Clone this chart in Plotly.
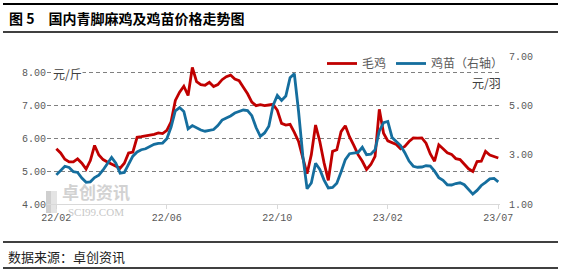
import plotly.graph_objects as go

# ---------------- data ----------------
tick_labels = ["22/02", "22/06", "22/10", "23/02", "23/07"]
tick_index = [0, 26, 52, 78, 104]

# 毛鸡 (元/斤, left axis)
broiler = [
    5.68, 5.55, 5.36, 5.28, 5.28, 5.37, 5.24, 5.06, 5.32, 5.78,
    5.49, 5.35, 5.28, 5.21, 5.15, 5.09, 5.24, 5.55, 5.58, 6.03,
    6.05, 6.07, 6.10, 6.12, 6.16, 6.14, 6.24, 6.50, 7.15, 7.40,
    7.58, 7.30, 8.15, 7.72, 7.63, 7.61, 7.70, 7.57, 7.63, 7.78,
    7.87, 7.92, 7.80, 7.75, 7.55, 7.35, 7.10, 6.99, 7.02, 6.99,
    7.01, 7.03, 6.85, 6.45, 6.40, 6.42, 6.18, 5.90, 5.40, 4.92,
    5.50, 6.40, 5.90, 5.25, 4.72, 5.60, 5.65, 6.20, 6.38, 6.04,
    5.78, 5.50, 5.30, 5.05, 5.20, 5.45, 6.88, 6.15, 5.92, 5.87,
    5.81, 5.68, 5.75, 5.90, 6.01, 6.00, 6.01, 5.85, 5.52, 5.30,
    5.80, 5.68, 5.56, 5.51, 5.38, 5.35, 5.20, 5.07, 4.99, 5.29,
    5.30, 5.60, 5.49, 5.45, 5.40,
]

# 鸡苗 (元/羽, right axis)
chick = [
    2.18, 2.35, 2.53, 2.48, 2.31, 2.28, 2.05, 1.88, 1.90, 2.07,
    2.17, 2.38, 2.65, 2.89, 2.65, 2.25, 2.28, 2.60, 2.94, 3.11,
    3.20, 3.24, 3.33, 3.42, 3.46, 3.47, 3.65, 4.12, 4.78, 4.91,
    4.75, 4.05, 4.18, 4.08, 4.00, 3.95, 3.99, 4.02, 4.18, 4.40,
    4.49, 4.57, 4.69, 4.75, 4.81, 4.79, 4.58, 4.10, 3.74, 3.88,
    4.15, 5.00, 5.40, 5.20, 5.38, 6.12, 6.28, 4.75, 2.95, 1.62,
    1.85, 2.65, 2.40, 1.97, 1.65, 1.67, 1.84, 2.30, 2.80, 3.04,
    3.05, 3.09, 3.30, 3.00, 3.02, 3.20, 3.95, 4.30, 4.35, 3.70,
    3.53, 3.37, 3.08, 2.74, 2.53, 2.49, 2.50, 2.55, 2.54, 2.33,
    2.07, 1.96, 1.78, 1.77, 1.83, 1.86, 1.78, 1.60, 1.40, 1.55,
    1.75, 1.88, 2.02, 2.04, 1.90,
]

left_ticks = [4, 5, 6, 7, 8]
right_ticks = [1, 3, 5, 7]

x_index = list(range(len(broiler)))

# ---------------- layout helpers ----------------
W, H = 563, 272
L_PX, R_PX, T_PX, B_PX = 47, 500, 56, 204


def px_x(p):
    return (p - L_PX) / (R_PX - L_PX)


def px_y(p):
    return (B_PX - p) / (B_PX - T_PX)


RED = "#C00000"
BLUE = "#156E9E"
NUMFONT = "Liberation Mono"
CJK = "Noto Sans CJK SC"

fig = go.Figure()
fig.add_trace(go.Scatter(
    x=x_index, y=broiler, name="毛鸡", mode="lines",
    line=dict(color=RED, width=2.8), yaxis="y"))
fig.add_trace(go.Scatter(
    x=x_index, y=chick, name="鸡苗（右轴）", mode="lines",
    line=dict(color=BLUE, width=2.8), yaxis="y2"))

fig.update_layout(
    width=W, height=H,
    margin=dict(l=L_PX, r=W - R_PX, t=T_PX, b=H - B_PX, pad=0),
    paper_bgcolor="white", plot_bgcolor="white",
    showlegend=True,
    legend=dict(orientation="h", x=px_x(322), xanchor="left",
                y=px_y(49), yanchor="top",
                font=dict(family=CJK, size=12, color="#595959"),
                bgcolor="rgba(0,0,0,0)", itemwidth=30, tracegroupgap=0),
    xaxis=dict(
        range=[-2.2, 104.4], tickmode="array", tickvals=tick_index,
        ticktext=tick_labels, showgrid=False, zeroline=False,
        showline=True, linecolor="#d9d9d9", linewidth=1,
        ticks="outside", ticklen=4, tickcolor="#d9d9d9",
        tickfont=dict(family=NUMFONT, size=10, color="#595959"),
    ),
    yaxis=dict(
        range=[4, 8.5], tickmode="array", tickvals=left_ticks,
        ticktext=[f"{v:.2f}" for v in left_ticks],
        showgrid=True, gridcolor="#808080", gridwidth=1, griddash="4px,3px",
        zeroline=False, showline=False, ticks="",
        tickfont=dict(family=NUMFONT, size=10, color="#595959"),
    ),
    yaxis2=dict(
        range=[1, 7], tickmode="array", tickvals=right_ticks,
        ticktext=[f"{v:.2f}" for v in right_ticks],
        overlaying="y", side="right", showgrid=False, zeroline=False,
        showline=False, ticks="", ticklabelstandoff=8,
        tickfont=dict(family=NUMFONT, size=10, color="#595959"),
    ),
)

annotations = [
    dict(text="<b>图 5　国内青脚麻鸡及鸡苗价格走势图</b>", x=px_x(7), y=px_y(18),
         xanchor="left", yanchor="middle",
         font=dict(family=CJK, size=14, color="#000000")),
    dict(text="数据来源：卓创资讯", x=px_x(6), y=px_y(256),
         xanchor="left", yanchor="middle",
         font=dict(family=CJK, size=13, color="#222222")),
    dict(text="元/斤", x=px_x(52), y=px_y(73), xanchor="left", yanchor="middle",
         bgcolor="white", borderpad=0,
         font=dict(family=CJK, size=12, color="#404040")),
    dict(text="元/羽", x=px_x(503), y=px_y(82), xanchor="right", yanchor="middle",
         font=dict(family=CJK, size=12, color="#404040")),
    dict(text="<b>卓创资讯</b>", x=px_x(96), y=px_y(191), xanchor="center",
         yanchor="middle", borderpad=0,
         font=dict(family=CJK, size=17, color="#d2d2d2")),
    dict(text="SCI99.COM", x=px_x(96), y=px_y(212), xanchor="center",
         yanchor="middle", borderpad=0,
         font=dict(family="Liberation Serif", size=11, color="#c8c8c8")),
]
for a in annotations:
    a.update(xref="paper", yref="paper", showarrow=False)
fig.update_layout(annotations=annotations)

shapes = [
    dict(type="line", x0=px_x(3), x1=px_x(558), y0=px_y(4), y1=px_y(4),
         line=dict(color="black", width=2)),
    dict(type="line", x0=px_x(3), x1=px_x(558), y0=px_y(32), y1=px_y(32),
         line=dict(color="black", width=1.5)),
    dict(type="line", x0=px_x(3), x1=px_x(558), y0=px_y(242), y1=px_y(242),
         line=dict(color="black", width=1.5)),
    dict(type="line", x0=px_x(3), x1=px_x(558), y0=px_y(268), y1=px_y(268),
         line=dict(color="black", width=1.5)),
    dict(type="rect", x0=px_x(46), x1=px_x(51), y0=px_y(213), y1=px_y(191),
         fillcolor="#cfcfcf", line=dict(width=0), layer="below"),
    dict(type="rect", x0=px_x(51), x1=px_x(57), y0=px_y(213), y1=px_y(191),
         fillcolor="#e4e4e4", line=dict(width=0), layer="below"),
]
for s in shapes:
    s.update(xref="paper", yref="paper")
fig.update_layout(shapes=shapes)

fig.write_html("out.html")
